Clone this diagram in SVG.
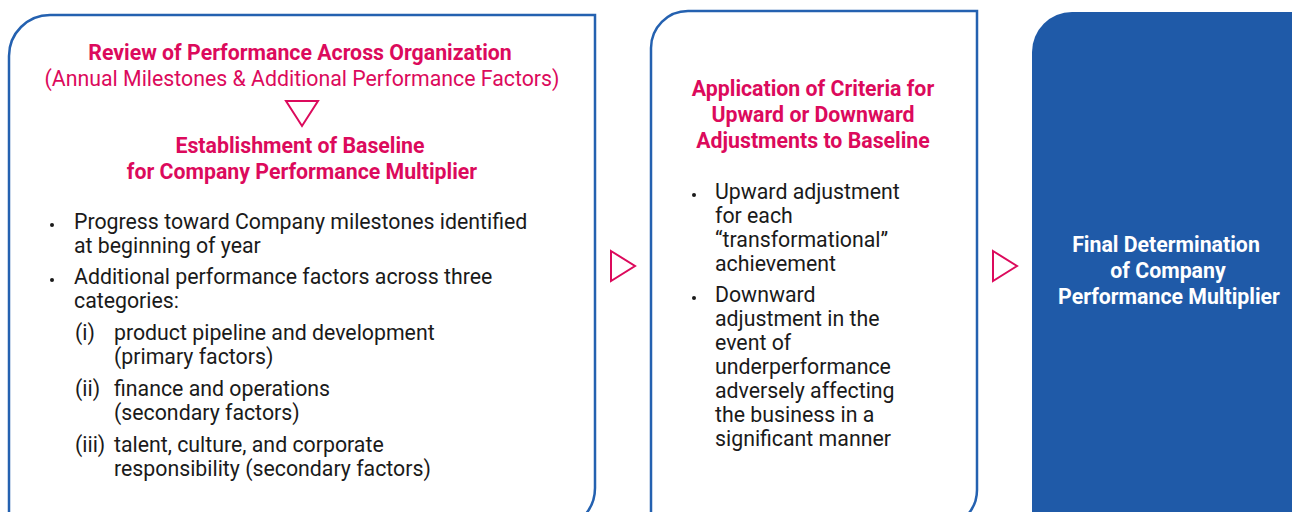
<svg xmlns="http://www.w3.org/2000/svg" width="1292" height="512" viewBox="0 0 1292 512">
<style>
.box{fill:#fff;stroke:#2461B0;stroke-width:2.5}
.fill{fill:#1F5AA8}
.h{font-family:Roboto,"Liberation Sans",sans-serif;font-weight:bold;font-size:21.3px;fill:#DC0A5C;text-anchor:middle}
.sub{font-family:Roboto,"Liberation Sans",sans-serif;font-size:21.3px;fill:#DC0A5C;text-anchor:middle}
.w{font-family:Roboto,"Liberation Sans",sans-serif;font-weight:bold;font-size:21.3px;fill:#fff;text-anchor:middle}
.t{font-family:Roboto,"Liberation Sans",sans-serif;font-size:21.3px;fill:#1a1a1a}
.tri{fill:none;stroke:#DC0A5C;stroke-width:2}
.dot{fill:#1a1a1a}
</style>
<g id="node-review">
<path class="box" d="M9,56 A41,41 0 0 1 50,15 L595,15 L595,488 A41,41 0 0 1 554,529 L9,529 Z"/>
<text class="h" x="300" y="60">Review of Performance Across Organization</text>
<text class="sub" x="302" y="86">(Annual Milestones &amp; Additional Performance Factors)</text>
<text class="h" x="300" y="153">Establishment of Baseline</text>
<text class="h" x="302" y="179">for Company Performance Multiplier</text>
<circle class="dot" cx="52" cy="225" r="2"/>
<text class="t" x="74" y="229">Progress toward Company milestones identified</text>
<text class="t" x="74" y="253">at beginning of year</text>
<circle class="dot" cx="52" cy="280" r="2"/>
<text class="t" x="74" y="284">Additional performance factors across three</text>
<text class="t" x="74" y="308">categories:</text>
<text class="t" x="75" y="340">(i)</text>
<text class="t" x="114" y="340">product pipeline and development</text>
<text class="t" x="114" y="364">(primary factors)</text>
<text class="t" x="75" y="396">(ii)</text>
<text class="t" x="114" y="396">finance and operations</text>
<text class="t" x="114" y="420">(secondary factors)</text>
<text class="t" x="75" y="452">(iii)</text>
<text class="t" x="114" y="452">talent, culture, and corporate</text>
<text class="t" x="114" y="476">responsibility (secondary factors)</text>
</g>
<g id="node-criteria">
<path class="box" d="M651,48 A37,37 0 0 1 688,11 L977,11 L977,490 A37,37 0 0 1 940,527 L651,527 Z"/>
<text class="h" x="813" y="96">Application of Criteria for</text>
<text class="h" x="813" y="122">Upward or Downward</text>
<text class="h" x="813" y="148">Adjustments to Baseline</text>
<circle class="dot" cx="694" cy="195" r="2"/>
<text class="t" x="715" y="199">Upward adjustment</text>
<text class="t" x="715" y="223">for each</text>
<text class="t" x="715" y="247">“transformational”</text>
<text class="t" x="715" y="271">achievement</text>
<circle class="dot" cx="694" cy="298" r="2"/>
<text class="t" x="715" y="302">Downward</text>
<text class="t" x="715" y="326">adjustment in the</text>
<text class="t" x="715" y="350">event of</text>
<text class="t" x="715" y="374">underperformance</text>
<text class="t" x="715" y="398">adversely affecting</text>
<text class="t" x="715" y="422">the business in a</text>
<text class="t" x="715" y="446">significant manner</text>
</g>
<g id="node-final">
<path class="fill" d="M1032,52 A40,40 0 0 1 1072,12 L1300,12 L1300,520 L1032,520 Z"/>
<text class="w" x="1166" y="252">Final Determination</text>
<text class="w" x="1168" y="278">of Company</text>
<text class="w" x="1169" y="304">Performance Multiplier</text>
</g>
<g id="connectors">
<polygon class="tri" points="286,101 318,101 302,126"/>
<polygon class="tri" points="611,251 635,266 611,281"/>
<polygon class="tri" points="993,251 1017,266 993,281"/>
</g>
</svg>
